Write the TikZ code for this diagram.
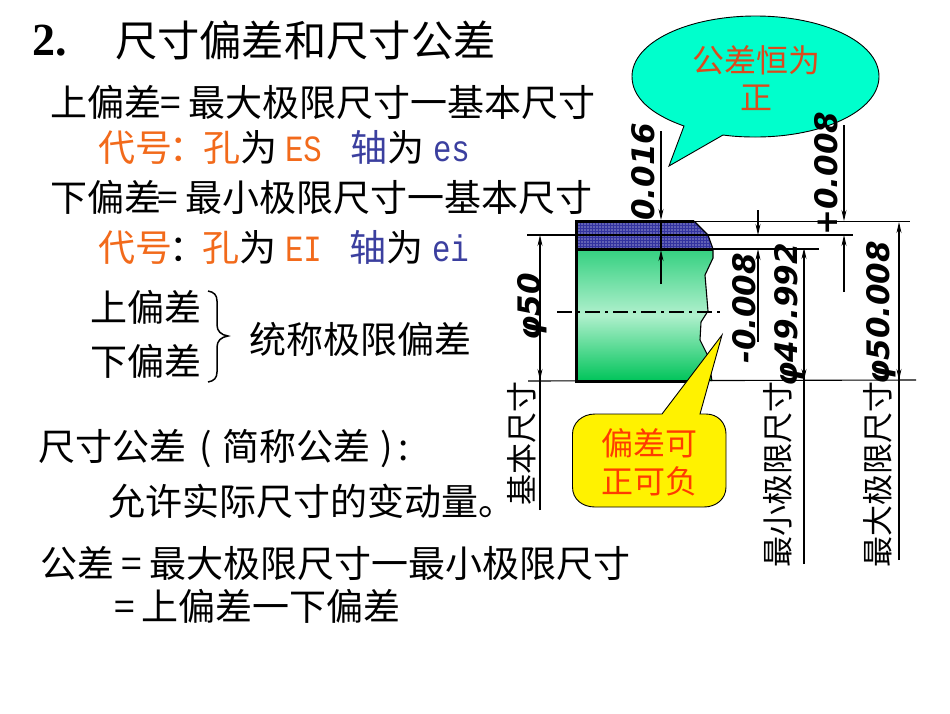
\documentclass[tikz,border=0pt]{standalone}
\usepackage{fontspec}
\setmainfont{Noto Sans CJK SC}
\newfontfamily\latinmono[FakeStretch=0.83]{Liberation Mono}
\newfontfamily\titlefont{Liberation Serif}
\newfontfamily\numfont{DejaVu Sans}
\usetikzlibrary{arrows.meta,patterns.meta,shapes.geometric}
\definecolor{orangetxt}{HTML}{F26A1B}
\definecolor{bluetxt}{HTML}{3B3F9F}
\definecolor{redtxt}{HTML}{DB4A1C}
\definecolor{redtxtb}{HTML}{FF3C00}
\definecolor{bandblue}{HTML}{33339F}
\definecolor{bubble}{HTML}{00FFCC}
\definecolor{bodytop}{HTML}{34D080}
\definecolor{bodymid}{HTML}{B0F0CD}
\definecolor{bodybot}{HTML}{00C45A}
\newcommand{\fs}[1]{\fontsize{#1}{#1}\selectfont}
\newcommand{\lm}[1]{{\latinmono #1}}
\tikzset{
  txt/.style={anchor=base west,inner sep=0pt,outer sep=0pt,font=\fs{37}},
  ttl/.style={txt,font=\fs{42.3}},
  vtxt/.style={anchor=base west,inner sep=0pt,rotate=90,font=\fs{31}},
  dimtxt/.style={anchor=base west,inner sep=0pt,rotate=90,font=\numfont\bfseries\itshape\fs{31}},
  call/.style={anchor=center,inner sep=0pt,font=\fs{32}},
  thin line/.style={draw=black,line width=1.1pt},
  dimup/.style={thin line,-{Stealth[length=11pt,width=5pt]}},
  thick edge/.style={draw=black,line width=3pt},
}
\begin{document}
\begin{tikzpicture}[x=1pt,y=-1pt]
\useasboundingbox (0,0) rectangle (950,713);
\fill[white] (0,0) rectangle (950,713);

% left text
\node[ttl,font=\fs{46}] (t0) at (32,55) {\titlefont\bfseries 2.};
\node[ttl] (t1) at (115,56) {尺寸偏差和尺寸公差};
\node[txt] (a1) at (50,116) {上偏差};
\node[txt] (a2) at (160,116) {=};
\node[txt] (a3) at (188,116) {最大极限尺寸一基本尺寸};
\node[txt] (b1) at (98,161) {\textcolor{orangetxt}{代号}};
\node[txt] (b1a) at (169,161) {\textcolor{orangetxt}{：}};
\node[txt] (b1b) at (203,161) {\textcolor{orangetxt}{孔}为};
\node[txt] (b2) at (285,161) {\textcolor{orangetxt}{\lm{ES}}};
\node[txt] (b3) at (350,161) {\textcolor{bluetxt}{轴}为};
\node[txt] (b4) at (433,161) {\textcolor{bluetxt}{\lm{es}}};
\node[txt] (c1) at (50,211) {下偏差};
\node[txt] (c2) at (157,211) {=};
\node[txt] (c3) at (185,211) {最小极限尺寸一基本尺寸};
\node[txt] (d1) at (98,261) {\textcolor{orangetxt}{代号}};
\node[txt] (d1a) at (169,261) {：};
\node[txt] (d1b) at (202,261) {\textcolor{orangetxt}{孔}为};
\node[txt] (d2) at (285,261) {\textcolor{orangetxt}{\lm{EI}}};
\node[txt] (d3) at (349,261) {\textcolor{bluetxt}{轴}为};
\node[txt] (d4) at (432,261) {\textcolor{bluetxt}{\lm{ei}}};
\node[txt] (e1) at (90,321) {上偏差};
\node[txt] (e2) at (90,375) {下偏差};
\node[txt] (e3) at (249,353) {统称极限偏差};
\draw[thin line,line width=1.5pt] (208,291) .. controls (214,292) and (217,295) .. (217,301)
  -- (217,325) .. controls (217,331) and (221,335) .. (228,336)
  .. controls (221,337) and (217,341) .. (217,347)
  -- (217,372) .. controls (217,378) and (214,381) .. (208,382);
\node[txt] (f1) at (38,460) {尺寸公差};
\node[txt] (f1b) at (199,460) {(};
\node[txt] (f1c) at (222,460) {简称公差};
\node[txt] (f1d) at (380,460) {)};
\node[txt] (f1e) at (398,460) {:};
\node[txt] (f2) at (108,515) {允许实际尺寸的变动量。};
\node[txt] (g1) at (40,577) {公差};
\node[txt] (g2) at (121,577) {=};
\node[txt] (g3) at (149,577) {最大极限尺寸一最小极限尺寸};
\node[txt] (h1) at (114,620) {=};
\node[txt] (h2) at (141,620) {上偏差一下偏差};

% part
\shade[top color=bodytop,bottom color=bodybot,middle color=bodymid]
  (576,249) -- (713,249) -- (713,258) -- (705,275) -- (708,311) -- (701,322) -- (700,340) -- (708,356) -- (712,381) -- (576,381) -- cycle;
\draw[line width=1.1pt] (713,249) -- (713,258) -- (705,275) -- (708,311) -- (701,322) -- (700,340) -- (708,356) -- (712,381);
\fill[bandblue] (576,221) -- (694,221) -- (708,235) -- (713,249) -- (576,249) -- cycle;
\fill[pattern={Dots[distance=3pt,radius=0.7pt]},pattern color=white] (578,222) -- (693,222) -- (707,235) -- (712,248) -- (578,248) -- cycle;
\draw[thick edge] (694,221) -- (576,221) -- (576,381) -- (700,381);
\draw[thick edge] (576,249) -- (713,249);
\draw[thin line,line width=2pt] (576,235) -- (708,235);
\draw[line width=1.1pt] (694,221) -- (708,235) -- (713,249);

% reference lines
\coordinate (top1) at (694,221.5);  \coordinate (top2) at (910,221.5);
\coordinate (mid1) at (527,235);    \coordinate (mid2) at (853,235);
\coordinate (low1) at (712,249);    \coordinate (low2) at (819,249);
\coordinate (bas1) at (528,381);    \coordinate (bas2) at (916,380);
\draw[thin line] (top1) -- (top2);
\draw[thin line] (mid1) -- (mid2);
\draw[thin line] (low1) -- (low2);
\draw[thin line] (bas1) -- (bas2);
\draw[thin line,dash pattern=on 15pt off 5pt on 3pt off 5pt] (557,312) -- (721,312);

% dimension lines
\coordinate (A1) at (661,131); \coordinate (A2) at (661,220);
\coordinate (A3) at (661,284); \coordinate (A4) at (661,250);
\draw[dimup] (A1) -- (A2);
\draw[dimup] (A3) -- (A4);
\draw[thin line] (A2) -- (A4);
\coordinate (B1) at (844,125); \coordinate (B2) at (844,221);
\coordinate (B3) at (844,292); \coordinate (B4) at (844,235);
\draw[dimup] (B1) -- (B2);
\draw[dimup] (B3) -- (B4);
\coordinate (C1) at (758,210); \coordinate (C2) at (758,235);
\coordinate (C3) at (758,342); \coordinate (C4) at (758,249);
\draw[dimup] (C1) -- (C2);
\draw[dimup] (C3) -- (C4);
\coordinate (D1) at (804,564); \coordinate (D2) at (804,248);
\coordinate (D3) at (804,300); \coordinate (D4) at (804,380);
\draw[dimup] (D1) -- (D2);
\draw[dimup] (D3) -- (D4);
\coordinate (E1) at (899,560); \coordinate (E2) at (899,222);
\coordinate (E3) at (899,300); \coordinate (E4) at (899,380);
\draw[dimup] (E1) -- (E2);
\draw[dimup] (E3) -- (E4);
\coordinate (F1) at (540,510); \coordinate (F2) at (540,235);
\coordinate (F3) at (540,300); \coordinate (F4) at (540,380);
\draw[dimup] (F1) -- (F2);
\draw[dimup] (F3) -- (F4);

% bubble
\draw[fill=bubble,line width=0.9pt] (684,126) .. controls (650,114) and (632,97) .. (632,76.5)
  .. controls (632,42) and (688,16) .. (755.5,16)
  .. controls (823,16) and (879,42) .. (879,76.5)
  .. controls (879,111) and (823,137) .. (755.5,137)
  .. controls (744,137) and (734,136.5) .. (723,135) -- (669,166) -- cycle;
\node[call,text=redtxt] (n1) at (756,60) {公差恒为};
\node[call,text=redtxt] (n2) at (756,98) {正};

% yellow callout
\draw[fill=yellow,line width=0.9pt] (662,414) -- (722,335) -- (700,414) -- (706,414)
  .. controls (718,414) and (726,423) .. (726,434) -- (726,487)
  .. controls (726,499) and (716,507) .. (704,507) -- (595,507)
  .. controls (582,507) and (572.5,499) .. (572.5,487) -- (572.5,434)
  .. controls (572.5,423) and (582,414) .. (595,414) -- cycle;
\node[call,text=redtxtb] (n3) at (649,443) {偏差可};
\node[call,text=redtxtb] (n4) at (649,481) {正可负};

% rotated labels
\node[vtxt] (v1) at (533,506) {基本尺寸};
\node[vtxt] (v2) at (789,568) {最小极限尺寸};
\node[vtxt] (v3) at (889,568) {最大极限尺寸};
\node[dimtxt] (w1) at (540,341) {φ50};
\node[dimtxt] (w2) at (654,221) {0.016};
\node[dimtxt] (w3) at (837,236) {+0.008};
\node[dimtxt] (w4) at (755,364) {-0.008};
\node[dimtxt] (w5) at (797,387) {φ49.992};
\node[dimtxt] (w6) at (889,385) {φ50.008};
\end{tikzpicture}
\end{document}
